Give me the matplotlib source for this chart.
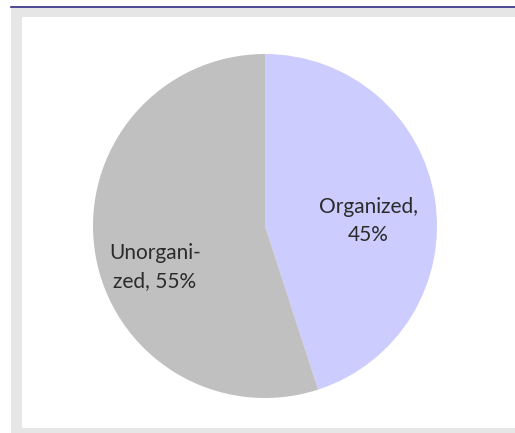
import matplotlib.pyplot as plt
from matplotlib.patches import Rectangle
from matplotlib.lines import Line2D

labels = ['Organized,\n45%', 'Unorgani-\nzed, 55%']
shares = [45, 55]
colors = ['#ccccff', '#c0c0c0']

W, H = 515, 433
fig = plt.figure(figsize=(W / 100, H / 100), dpi=100)
fig.patch.set_facecolor('white')

# frame: grey border and white plot area
fig.add_artist(Rectangle((11 / W, 0), 1, (H - 8) / H, transform=fig.transFigure,
                         facecolor='#e6e6e6', edgecolor='none', zorder=-3))
fig.add_artist(Rectangle((22 / W, 5 / H), 1, (H - 22) / H, transform=fig.transFigure,
                         facecolor='white', edgecolor='none', zorder=-2))
fig.add_artist(Line2D([11 / W, 1], [(H - 7) / H, (H - 7) / H], transform=fig.transFigure,
                      color='#2e2a80', lw=1.2, zorder=-1))
# title cut off at the top of the image
fig.text(0.66, 1 + 4.5 / H, 'Organized vs unorganized shopping, by segment',
         ha='center', va='baseline', color='#1f1a7a', fontsize=13,
         fontweight='bold', family='Open Sans')

cx, cy, r = 265, 226, 172
ax = fig.add_axes([(cx - r) / W, (H - cy - r) / H, 2 * r / W, 2 * r / H])
ax.pie(shares, colors=colors, startangle=90, counterclock=False,
       wedgeprops=dict(linewidth=0))
ax.set_xlim(-1, 1)
ax.set_ylim(-1, 1)
ax.set_aspect('equal')
ax.axis('off')

ax.text((368 - cx) / r, (cy - 221) / r, labels[0], ha='center', va='center',
        fontsize=15, color='#2b2b2b', family='Lato', linespacing=1.45)
ax.text((155 - cx) / r, (cy - 267) / r, labels[1], ha='center', va='center',
        fontsize=15, color='#2b2b2b', family='Lato', linespacing=1.45)

fig.savefig('out.png', dpi=100)
